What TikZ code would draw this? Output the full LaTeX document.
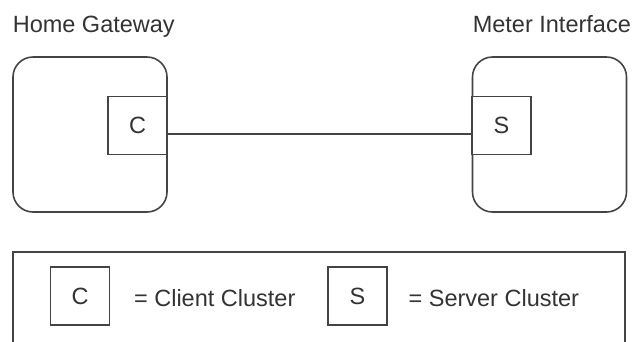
\documentclass[tikz,border=0pt]{standalone}
\usepackage{fontspec}
\setmainfont{Liberation Sans}
\usetikzlibrary{positioning}
\definecolor{edge}{RGB}{68,68,68}
\definecolor{ink}{RGB}{51,51,51}

\begin{document}
\begin{tikzpicture}[x=1pt, y=-1pt, line width=1.6pt,
    device/.style={draw=edge, rounded corners=20pt, minimum width=154pt, minimum height=155pt, inner sep=0pt},
    cluster/.style={draw=edge, fill=white, minimum width=59pt, minimum height=58pt, inner sep=0pt,
        text=ink, font=\fontsize{23.5}{28}\selectfont},
    title/.style={anchor=base west, inner sep=0pt, text=ink, font=\fontsize{23.5}{28}\selectfont},
    keytext/.style={inner sep=0pt, text=ink, font=\fontsize{23.5}{28}\selectfont}]

        \useasboundingbox (0,0) rectangle (634,341);

        \pgfmathsetmacro{\dy}{8.5}

        % the two devices
        \node[device] (gw) at (90,134.5) {};
        \node[device] (mi) at (549.5,134.5) {};

        \node[title] (gwname) at (12,32) {Home Gateway};
        \node[title] (miname) at (472,32) {Meter Interface};

        \node[cluster] (c) at (137.5,125.5) {C};
        \node[cluster] (s) at (501.5,125.5) {S};

        \draw[edge] ([yshift=-\dy pt]c.east) -- ([yshift=-\dy pt]s.west);

        % legend
        \draw[edge] (13,350) -- (13,252) -- (625,252) -- (625,350);

        \node[cluster] (keyc) at (80,296) {C};
        \node[keytext, right=23pt of keyc, yshift=-2pt] (keyctext) {= Client Cluster};

        \node[cluster] (keys) at (357.5,296) {S};
        \node[keytext, right=20pt of keys, yshift=-2pt] (keystext) {= Server Cluster};

    \end{tikzpicture}
\end{document}
